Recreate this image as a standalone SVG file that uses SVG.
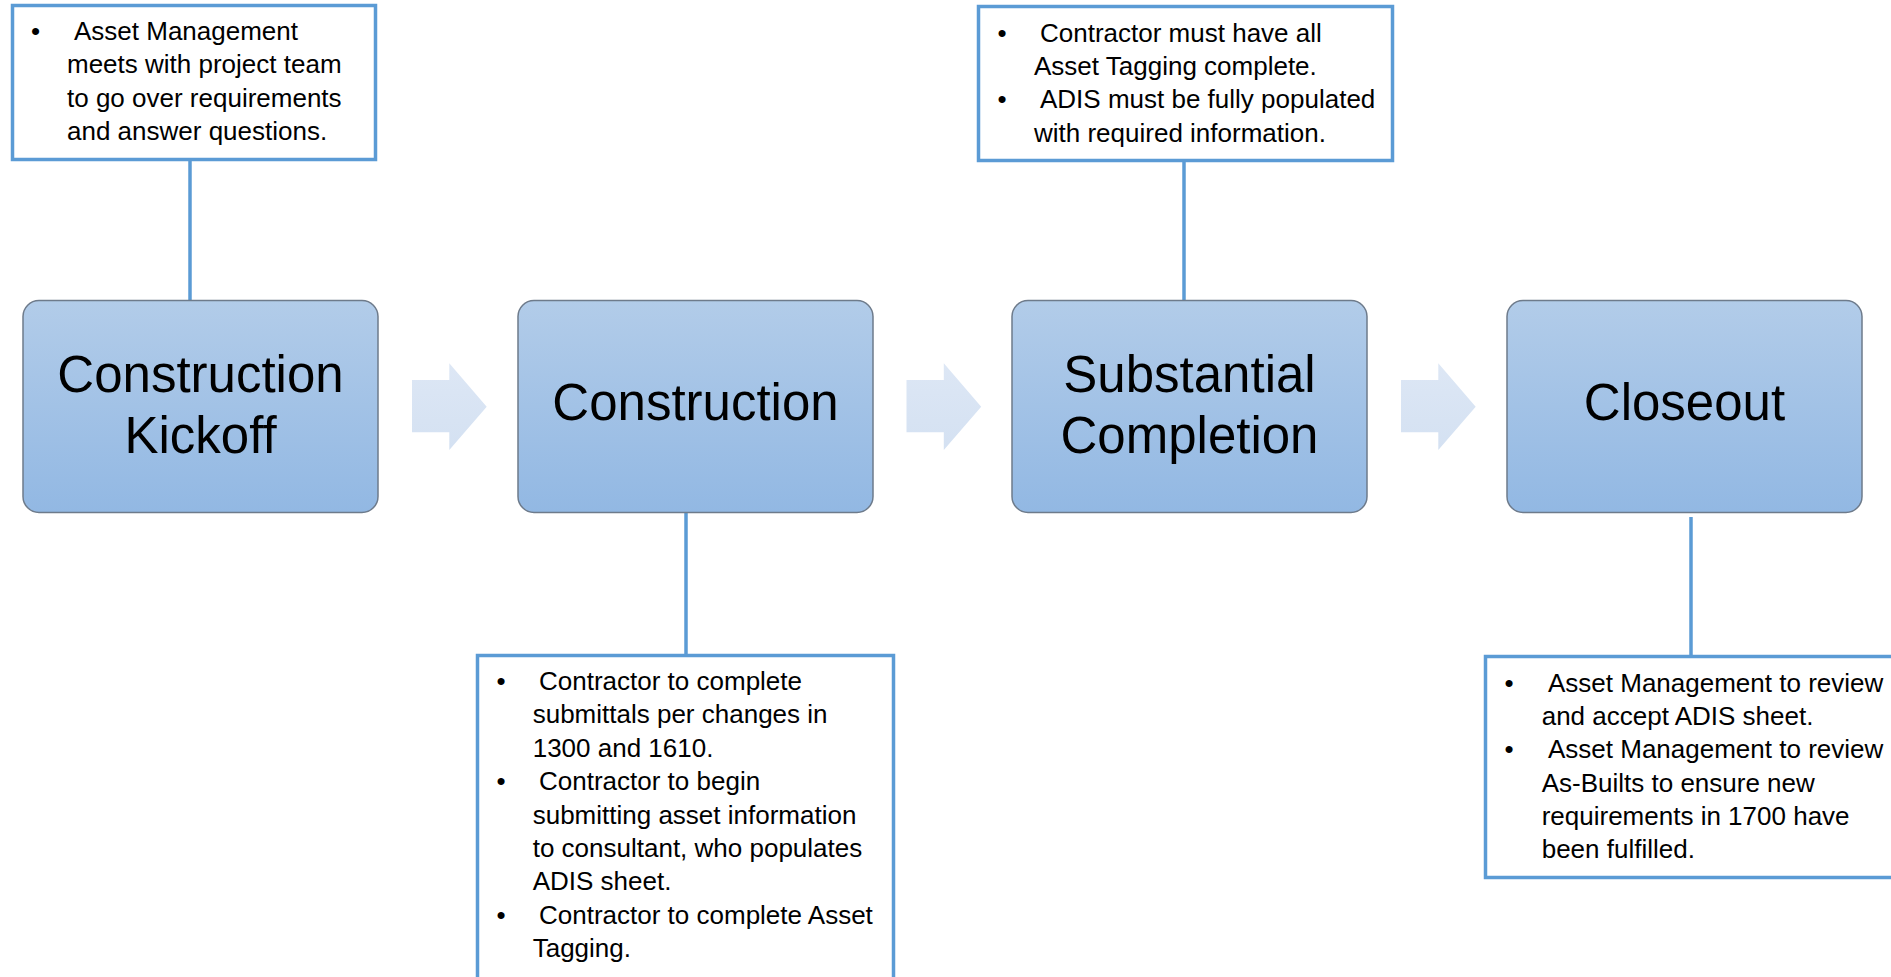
<svg xmlns="http://www.w3.org/2000/svg" width="1891" height="977" viewBox="0 0 1891 977">
<style>
.node{fill:url(#ng);stroke:#6E7B8B;stroke-width:1.5}
.big{font-family:"Liberation Sans",Arial,sans-serif;font-size:51px;fill:#000;text-anchor:middle}
.box{fill:#fff;stroke:#5B9BD5;stroke-width:3.5}
.t{font-family:"Liberation Sans",Arial,sans-serif;font-size:26px;fill:#000}
.b{font-family:"Liberation Sans",Arial,sans-serif;font-size:26px;fill:#000;text-anchor:middle}
.conn{stroke:#5B9BD5;stroke-width:3.5;fill:none}
.arr{fill:url(#ag)}
</style>
<defs>
<linearGradient id="ng" x1="0" y1="0" x2="0" y2="1">
<stop offset="0" stop-color="#B2CCE9"/>
<stop offset="1" stop-color="#92B8E3"/>
</linearGradient>
<linearGradient id="ag" x1="0" y1="0" x2="0" y2="1">
<stop offset="0" stop-color="#DDE7F5"/>
<stop offset="1" stop-color="#D4E1F2"/>
</linearGradient>
</defs>
<rect width="1891" height="977" fill="#fff"/>

<g id="connectors">
<line class="conn" x1="190" y1="161" x2="190" y2="300"/>
<line class="conn" x1="686" y1="512" x2="686" y2="655"/>
<line class="conn" x1="1184" y1="162" x2="1184" y2="300"/>
<line class="conn" x1="1691" y1="517" x2="1691" y2="656"/>
<path class="arr" d="M412,380 H449.3 V363.3 L486.7,406.7 L449.3,450 V432.3 H412 Z"/>
<path class="arr" d="M906.5,380 H943.8 V363.3 L981.2,406.7 L943.8,450 V432.3 H906.5 Z"/>
<path class="arr" d="M1401,380 H1438.3 V363.3 L1475.7,406.7 L1438.3,450 V432.3 H1401 Z"/>
</g>

<g id="node-kickoff">
<rect class="node" x="23" y="300.5" width="355" height="212" rx="16"/>
<text class="big" x="200.5" y="392">Construction</text>
<text class="big" x="200.5" y="453">Kickoff</text>
</g>
<g id="node-construction">
<rect class="node" x="518" y="300.5" width="355" height="212" rx="16"/>
<text class="big" x="695.5" y="420">Construction</text>
</g>
<g id="node-substantial">
<rect class="node" x="1012" y="300.5" width="355" height="212" rx="16"/>
<text class="big" x="1189.5" y="392">Substantial</text>
<text class="big" x="1189.5" y="453">Completion</text>
</g>
<g id="node-closeout">
<rect class="node" x="1507" y="300.5" width="355" height="212" rx="16"/>
<text class="big" x="1684.5" y="420">Closeout</text>
</g>

<g id="note-kickoff">
<rect class="box" x="12.5" y="5.5" width="363" height="154"/>
<text class="b" x="35.5" y="40">•</text>
<text class="t" x="74" y="40">Asset Management</text>
<text class="t" x="67" y="73.3">meets with project team</text>
<text class="t" x="67" y="106.7">to go over requirements</text>
<text class="t" x="67" y="140">and answer questions.</text>
</g>

<g id="note-substantial">
<rect class="box" x="978.5" y="6.5" width="414" height="154"/>
<text class="b" x="1002" y="41.7">•</text>
<text class="t" x="1040" y="41.7">Contractor must have all</text>
<text class="t" x="1034" y="75">Asset Tagging complete.</text>
<text class="b" x="1002" y="108.3">•</text>
<text class="t" x="1040" y="108.3">ADIS must be fully populated</text>
<text class="t" x="1034" y="141.7">with required information.</text>
</g>

<g id="note-construction">
<rect class="box" x="477.5" y="655.5" width="416" height="340"/>
<text class="b" x="501" y="690">•</text>
<text class="t" x="539" y="690">Contractor to complete</text>
<text class="t" x="532.7" y="723.4">submittals per changes in</text>
<text class="t" x="532.7" y="756.8">1300 and 1610.</text>
<text class="b" x="501" y="790.2">•</text>
<text class="t" x="539" y="790.2">Contractor to begin</text>
<text class="t" x="532.7" y="823.6">submitting asset information</text>
<text class="t" x="532.7" y="857">to consultant, who populates</text>
<text class="t" x="532.7" y="890.4">ADIS sheet.</text>
<text class="b" x="501" y="923.8">•</text>
<text class="t" x="539" y="923.8">Contractor to complete Asset</text>
<text class="t" x="532.7" y="957.2">Tagging.</text>
</g>

<g id="note-closeout">
<rect class="box" x="1485.5" y="656.5" width="420" height="221"/>
<text class="b" x="1509" y="691.7">•</text>
<text class="t" x="1548" y="691.7">Asset Management to review</text>
<text class="t" x="1541.7" y="725">and accept ADIS sheet.</text>
<text class="b" x="1509" y="758.3">•</text>
<text class="t" x="1548" y="758.3">Asset Management to review</text>
<text class="t" x="1541.7" y="791.7">As-Builts to ensure new</text>
<text class="t" x="1541.7" y="825">requirements in 1700 have</text>
<text class="t" x="1541.7" y="858.3">been fulfilled.</text>
</g>
</svg>
